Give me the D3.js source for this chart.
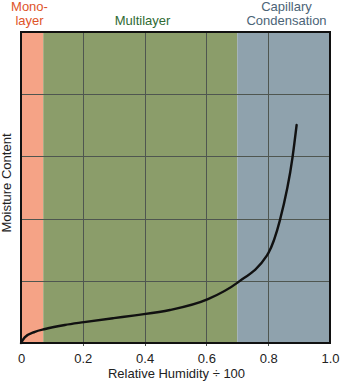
<!DOCTYPE html>
<html>
<head>
<meta charset="utf-8">
<script src="https://cdn.jsdelivr.net/npm/d3@7"></script>
<style>
  html, body { margin: 0; padding: 0; background: #ffffff; }
  svg { display: block; font-family: "Liberation Sans", Arial, Helvetica, sans-serif; }
</style>
</head>
<body>
<svg id="chart" width="342" height="382"></svg>
<script>
// Sorption regions along relative humidity
const regionNames = ["Mono-layer", "Multilayer", "Capillary Condensation"];
const regionStart = [0, 0.072, 0.70];
const regionEnd = [0.072, 0.70, 1.0];
const regionFill = ["#f5a386", "#8b9d6a", "#8fa2ad"];
const regionText = ["#de5429", "#2f6a34", "#4b6477"];

// Isotherm curve: relative humidity vs. moisture content (relative units)
const humidity = [0, 0.012, 0.045, 0.078, 0.142, 0.204, 0.30, 0.369, 0.482, 0.605, 0.702, 0.795, 0.80, 0.838, 0.879, 0.892];
const moisture = [0, 0.018, 0.036, 0.045, 0.058, 0.067, 0.080, 0.089, 0.106, 0.141, 0.195, 0.280, 0.288, 0.395, 0.599, 0.701];

const xTicks = [0, 0.2, 0.4, 0.6, 0.8, 1.0];
const xTickLabels = ["0", "0.2", "0.4", "0.6", "0.8", "1.0"];
const yGrid = [0.2, 0.4, 0.6, 0.8];

const margin = { left: 21, right: 12, top: 32, bottom: 39 };
const W = 342, H = 382;
const svg = d3.select("#chart");

const x = d3.scaleLinear().domain([0, 1]).range([margin.left, W - margin.right]);
const y = d3.scaleLinear().domain([0, 1]).range([H - margin.bottom, margin.top]);

// Background bands
svg.append("g").selectAll("rect")
  .data(regionNames)
  .join("rect")
  .attr("x", (d, i) => x(regionStart[i]))
  .attr("width", (d, i) => x(regionEnd[i]) - x(regionStart[i]))
  .attr("y", y(1))
  .attr("height", y(0) - y(1))
  .attr("fill", (d, i) => regionFill[i]);

// Grid lines
const grid = svg.append("g").attr("stroke", "#4f5650").attr("stroke-width", 1);
grid.selectAll(".vx").data(xTicks.slice(1, -1)).join("line")
  .attr("x1", d => Math.round(x(d)) + 0.5).attr("x2", d => Math.round(x(d)) + 0.5)
  .attr("y1", y(1)).attr("y2", y(0) + 3);
grid.selectAll(".hy").data(yGrid).join("line")
  .attr("y1", d => Math.round(y(d)) + 0.5).attr("y2", d => Math.round(y(d)) + 0.5)
  .attr("x1", x(0)).attr("x2", x(1));

// Isotherm
const line = d3.line()
  .x((d, i) => x(humidity[i]))
  .y((d, i) => y(moisture[i]))
  .curve(d3.curveMonotoneX);
svg.append("path")
  .datum(humidity)
  .attr("d", line)
  .attr("fill", "none")
  .attr("stroke", "#111111")
  .attr("stroke-width", 2.4)
  .attr("stroke-linecap", "round");

// Frame
svg.append("rect")
  .attr("x", x(0)).attr("y", y(1))
  .attr("width", x(1) - x(0)).attr("height", y(0) - y(1))
  .attr("fill", "none").attr("stroke", "#111111").attr("stroke-width", 2);

// X axis tick labels
const xAxis = d3.axisBottom(x).tickValues(xTicks)
  .tickFormat((d, i) => xTickLabels[i]).tickSize(0).tickPadding(11);
const gx = svg.append("g").attr("transform", `translate(0,${y(0)})`).call(xAxis);
gx.select(".domain").remove();
gx.selectAll("text").attr("font-size", 13).attr("fill", "#222")
  .attr("font-family", "'Liberation Sans', Arial, sans-serif");

// Axis titles
svg.append("text")
  .attr("x", (x(0) + x(1)) / 2 + 1).attr("y", 378)
  .attr("text-anchor", "middle").attr("font-size", 13).attr("fill", "#222")
  .text("Relative Humidity \u00F7 100");
svg.append("text")
  .attr("transform", `translate(11,183) rotate(-90)`)
  .attr("text-anchor", "middle").attr("font-size", 13).attr("fill", "#222")
  .text("Moisture Content");

// Region labels (two-line labels as separate text rows)
const labelLines = [["Mono-", "layer"], ["Multilayer"], ["Capillary", "Condensation"]];
const labelCx = [29.5, 142.5, 286.5];
const rowBaselines = [11, 25];
labelLines.forEach((lines, i) => {
  lines.forEach((s, j) => {
    svg.append("text")
      .attr("x", labelCx[i])
      .attr("y", rowBaselines[rowBaselines.length - lines.length + j])
      .attr("text-anchor", "middle").attr("font-size", 13)
      .attr("fill", regionText[i])
      .text(s);
  });
});
</script>
</body>
</html>
